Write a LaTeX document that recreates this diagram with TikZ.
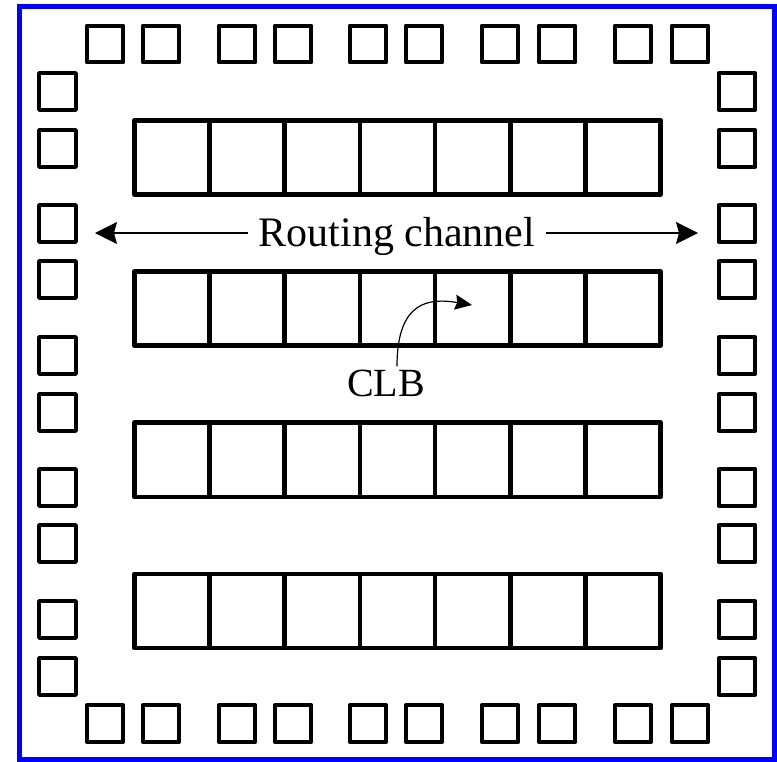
\documentclass[tikz,border=0pt]{standalone}
\usepackage{fontspec}
\setmainfont{Liberation Serif}
\usetikzlibrary{arrows.meta}
\begin{document}
\begin{tikzpicture}[x=1pt,y=-1pt,
  pad/.style={draw=black,line width=4.3pt,line join=round,minimum size=36.6pt,inner sep=0pt,outer sep=0pt},
  cell/.style={draw=black,line width=4.5pt,line join=round,minimum width=75.2pt,minimum height=74.2pt,inner sep=0pt,outer sep=0pt},
  bigarr/.style={line width=1.2pt,-{Stealth[length=22pt,width=22pt,inset=3pt]}},
  clbarr/.style={line width=1.2pt,-{Stealth[length=17pt,width=15pt,inset=2pt]}},
  lbl/.style={font=\fontsize{40}{48}\selectfont,inner sep=0pt},
  rlbl/.style={font=\fontsize{42}{50}\selectfont,inner sep=0pt}
]
\useasboundingbox (0,0) rectangle (777,761);
\draw[blue,line width=4.7pt] (19.5,6.5) rectangle (774.2,759.3);
% top and bottom pads
\foreach \x [count=\i] in {105,161,237,293,368,424,500,557,633,690}{
  \node[pad] (t\i) at (\x,44) {};
  \node[pad] (b\i) at (\x,723.5) {};
}
% left and right pads
\foreach \y [count=\i] in {91.5,148.5,223.5,279.5,355.5,412.5,487.5,543.5,619.5,676.5}{
  \node[pad] (l\i) at (57.5,\y) {};
  \node[pad] (r\i) at (737,\y) {};
}
% CLB rows
\foreach \yc [count=\r] in {157.4,308.6,459.8,611}{
  \foreach \c in {1,...,7}{
    \node[cell] (c\r\c) at ({134.3+75.2*(\c-0.5)},\yc) {};
  }
}
% labels
\node[rlbl,anchor=base] (rc) at (397,246) {Routing channel};
\node[lbl,anchor=base] (clb) at (386,396) {CLB};
\coordinate (lt) at (95,233);
\coordinate (rt) at (698,233);
\draw[bigarr] (rc.west |- lt) ++(-11,0) -- (lt);
\draw[bigarr] (rc.east |- rt) ++(11,0) -- (rt);
\coordinate (ce) at (472,305);
\draw[clbarr] (clb.north -| 397,0) ++(0,-3) .. controls (397,300) and (430,298) .. (ce);
\end{tikzpicture}
\end{document}
